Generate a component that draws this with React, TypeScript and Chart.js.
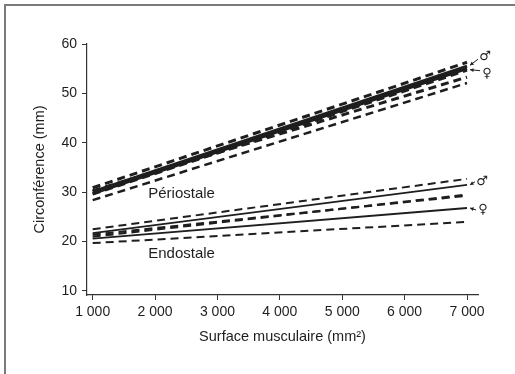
import React, { useEffect, useRef } from 'react';
import { Chart, registerables } from 'chart.js';

Chart.register(...registerables);

// Muscle area (mm²) at which the regression lines start and end
const xRange = [1000, 7000];

// Axis ticks
const xTicks = [1000, 2000, 3000, 4000, 5000, 6000, 7000];
const xTickLabels = ['1 000', '2 000', '3 000', '4 000', '5 000', '6 000', '7 000'];
const yTicks = [10, 20, 30, 40, 50, 60];

// Periosteal circumference (mm): fit and confidence bounds, at start / end of range
const periMale = [30.1, 55.5];
const periMaleHigh = [30.9, 56.3];
const periMaleLow = [29.6, 54.7];
const periFemale = [29.7, 55.0];
const periFemaleHigh = [30.3, 53.3];
const periFemaleLow = [28.4, 52.1];

// Endosteal circumference (mm)
const endoMale = [21.7, 31.5];
const endoMaleHigh = [22.5, 32.7];
const endoMaleLow = [21.0, 29.5];
const endoFemale = [20.6, 26.8];
const endoFemaleHigh = [21.4, 29.3];
const endoFemaleLow = [19.7, 24.0];

const ink = '#1e1e1e';
const font = "'Liberation Sans', Arial, sans-serif";

const toPoints = (vals: number[]) => vals.map((y, i) => ({ x: xRange[i], y }));

const solid = (vals: number[], width: number) => ({
  data: toPoints(vals),
  borderColor: ink,
  borderWidth: width,
  pointRadius: 0,
  fill: false,
});

const dashed = (vals: number[], width: number) => ({
  data: toPoints(vals),
  borderColor: ink,
  borderWidth: width,
  borderDash: [8, 5],
  pointRadius: 0,
  fill: false,
});

// Sex markers at the right end of each fitted line (pixel offsets from the line end)
const markers = [
  { series: periMale, symbol: '♂', dx: 18, dy: -10 },
  { series: periFemale, symbol: '♀', dx: 20, dy: 5 },
  { series: endoMale, symbol: '♂', dx: 15, dy: -3 },
  { series: endoFemale, symbol: '♀', dx: 16, dy: 2 },
];

// In-plot labels
const labels = [
  { text: 'Périostale', x: 1890, y: 29.7 },
  { text: 'Endostale', x: 1890, y: 17.6 },
];

const decorations = {
  id: 'decorations',
  beforeDraw(chart: any) {
    const ctx = chart.ctx;
    ctx.save();
    ctx.fillStyle = '#ffffff';
    ctx.fillRect(0, 0, chart.width, chart.height);
    // figure frame
    ctx.strokeStyle = '#7a7a7a';
    ctx.lineWidth = 2;
    ctx.beginPath();
    ctx.moveTo(5, chart.height + 2);
    ctx.lineTo(5, 5);
    ctx.lineTo(chart.width + 2, 5);
    ctx.stroke();
    ctx.restore();
  },
  afterDatasetsDraw(chart: any) {
    const ctx = chart.ctx;
    const xs = chart.scales.x;
    const ys = chart.scales.y;
    ctx.save();
    ctx.fillStyle = ink;
    ctx.font = `15px ${font}`;
    ctx.textAlign = 'left';
    ctx.textBaseline = 'middle';
    for (const l of labels) {
      ctx.fillText(l.text, xs.getPixelForValue(l.x), ys.getPixelForValue(l.y));
    }
    for (const m of markers) {
      const ex = xs.getPixelForValue(xRange[1]);
      const ey = ys.getPixelForValue(m.series[1]);
      const sx = ex + m.dx;
      const sy = ey + m.dy;
      // arrow from the symbol to the end of the line
      const ax = sx - 7;
      const ay = sy + (m.dy < -5 ? 3 : m.dy > 3 ? -3 : 0);
      const tx = ex + 3;
      const ty = ey + (m.dy < -5 ? -1 : m.dy > 3 ? 1 : 0);
      ctx.strokeStyle = ink;
      ctx.lineWidth = 1;
      ctx.beginPath();
      ctx.moveTo(ax, ay);
      ctx.lineTo(tx, ty);
      ctx.stroke();
      const ang = Math.atan2(ty - ay, tx - ax);
      ctx.beginPath();
      ctx.moveTo(tx, ty);
      ctx.lineTo(tx - 4 * Math.cos(ang - 0.5), ty - 4 * Math.sin(ang - 0.5));
      ctx.lineTo(tx - 4 * Math.cos(ang + 0.5), ty - 4 * Math.sin(ang + 0.5));
      ctx.closePath();
      ctx.fill();
      ctx.font = `13px 'DejaVu Sans', sans-serif`;
      ctx.textAlign = 'center';
      ctx.textBaseline = 'middle';
      ctx.fillText(m.symbol, sx, sy);
    }
    ctx.restore();
  },
};

export default function App() {
  const canvasRef = useRef<HTMLCanvasElement | null>(null);

  useEffect(() => {
    if (!canvasRef.current) return;
    const chart = new Chart(canvasRef.current, {
      type: 'line',
      data: {
        datasets: [
          solid(periMale, 3),
          dashed(periMaleHigh, 3),
          dashed(periMaleLow, 3),
          solid(periFemale, 3),
          dashed(periFemaleHigh, 3),
          dashed(periFemaleLow, 2.5),
          solid(endoMale, 1.8),
          dashed(endoMaleHigh, 2),
          dashed(endoMaleLow, 2.2),
          solid(endoFemale, 1.8),
          dashed(endoFemaleHigh, 2.2),
          dashed(endoFemaleLow, 2),
        ],
      },
      options: {
        animation: false,
        responsive: false,
        devicePixelRatio: 1,
        layout: { padding: { left: 0, top: 44, right: 37, bottom: 0 } },
        plugins: {
          legend: { display: false },
          tooltip: { enabled: false },
        },
        scales: {
          x: {
            type: 'linear',
            min: 909,
            max: 7176,
            afterFit: (s: any) => { s.height = 79; },
            afterBuildTicks: (s: any) => { s.ticks = xTicks.map((v) => ({ value: v })); },
            grid: { drawOnChartArea: false, drawTicks: true, tickLength: 5, color: '#333' },
            border: { display: true, color: '#333', width: 1.2 },
            ticks: {
              color: ink,
              font: { family: font, size: 14 },
              padding: 4,
              maxRotation: 0,
              callback: (v: any) => xTickLabels[xTicks.indexOf(Number(v))] ?? '',
            },
            title: {
              display: true,
              text: 'Surface musculaire (mm²)',
              color: ink,
              font: { family: font, size: 14.5 },
              padding: { top: 0, bottom: 28 },
            },
          },
          y: {
            type: 'linear',
            min: 9.19,
            max: 60,
            afterFit: (s: any) => { s.width = 87; },
            afterBuildTicks: (s: any) => { s.ticks = yTicks.map((v) => ({ value: v })); },
            grid: { drawOnChartArea: false, drawTicks: true, tickLength: 5, color: '#333' },
            border: { display: true, color: '#333', width: 1.2 },
            ticks: {
              color: ink,
              font: { family: font, size: 14 },
              padding: 5,
              callback: (v: any) => String(v),
            },
            title: {
              display: true,
              text: 'Circonférence (mm)',
              color: ink,
              font: { family: font, size: 14.5 },
              padding: { top: 31, bottom: 0 },
            },
          },
        },
      },
      plugins: [decorations],
    } as any);
    return () => chart.destroy();
  }, []);

  return (
    <div style={{ position: 'absolute', left: 0, top: 0, width: 515, height: 374 }}>
      <canvas ref={canvasRef} width={515} height={374} style={{ display: 'block' }} />
    </div>
  );
}
